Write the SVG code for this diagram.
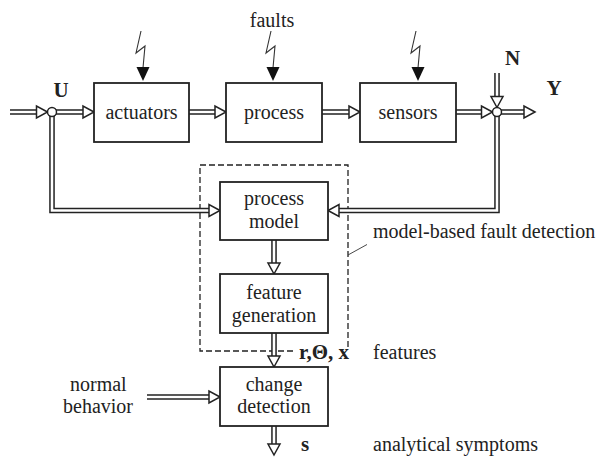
<svg xmlns="http://www.w3.org/2000/svg" xmlns:xlink="http://www.w3.org/1999/xlink" width="601" height="459" viewBox="0 0 601 459">
<style>
.box{fill:#fff;stroke:#222;stroke-width:1.8}
.t{font-family:'Liberation Serif','DejaVu Serif','Noto Serif',serif;font-size:20px;fill:#222}
.b{font-family:'Liberation Serif','DejaVu Serif','Noto Serif',serif;font-size:21px;font-weight:bold;fill:#222}
.dl{fill:none;stroke:#222;stroke-width:5.6;stroke-linejoin:miter}
.dw{fill:none;stroke:#fff;stroke-width:2.6;stroke-linejoin:miter}
.head{fill:#fff;stroke:#222;stroke-width:1.5;stroke-linejoin:miter}
.bolt{fill:none;stroke:#333;stroke-width:1.1}
.bh{fill:#111}
.dash{fill:none;stroke:#222;stroke-width:1.3;stroke-dasharray:6,3}
.junc{fill:#fff;stroke:#222;stroke-width:1.5}
</style>
<defs>
<path id="ah" d="M0,0 L-11,-6 L-11,6 Z"/>
<g id="bolt">
<polyline class="bolt" points="-2,31 -7,53 2,46 0,68"/>
<polygon class="bh" points="-6.5,67 6.5,67 0,81"/>
</g>
</defs>
<rect width="601" height="459" fill="#fff"/>

<g id="faults">
<text class="t" x="272" y="27" text-anchor="middle">faults</text>
<use xlink:href="#bolt" transform="translate(143,0)"/>
<use xlink:href="#bolt" transform="translate(273,0)"/>
<use xlink:href="#bolt" transform="translate(418,0)"/>
</g>

<g id="mbfd">
<path class="dash" d="M293,351 H200 V165 H348 V347"/>
<line x1="348" y1="255" x2="367" y2="244.5" stroke="#333" stroke-width="0.9"/>
<text class="t" x="373" y="238">model-based fault detection</text>
</g>

<g id="connectors">
<path class="dl" d="M10,112 H37 M56,112 H84 M189,112 H216 M322,112 H350 M456,112 H482 M501,112 H525 M497,73 V97 M52,116 V210.5 H210 M497,116 V210.5 H338 M274,240 V264 M274,333 V357 M147,397 H210 M274,426 V445"/>
<path class="dw" d="M10,112 H37 M56,112 H84 M189,112 H216 M322,112 H350 M456,112 H482 M501,112 H525 M497,73 V97 M52,116 V210.5 H210 M497,116 V210.5 H338 M274,240 V264 M274,333 V357 M147,397 H210 M274,426 V445"/>
<use xlink:href="#ah" class="head" transform="translate(47.5,112)"/>
<use xlink:href="#ah" class="head" transform="translate(94,112)"/>
<use xlink:href="#ah" class="head" transform="translate(226,112)"/>
<use xlink:href="#ah" class="head" transform="translate(360,112)"/>
<use xlink:href="#ah" class="head" transform="translate(492.5,112)"/>
<use xlink:href="#ah" class="head" transform="translate(535,112)"/>
<use xlink:href="#ah" class="head" transform="translate(497,107.5) rotate(90)"/>
<use xlink:href="#ah" class="head" transform="translate(220,210.5)"/>
<use xlink:href="#ah" class="head" transform="translate(328,210.5) rotate(180)"/>
<use xlink:href="#ah" class="head" transform="translate(274,274) rotate(90)"/>
<use xlink:href="#ah" class="head" transform="translate(274,367) rotate(90)"/>
<use xlink:href="#ah" class="head" transform="translate(220,397)"/>
<use xlink:href="#ah" class="head" transform="translate(274,455) rotate(90)"/>
<circle class="junc" cx="52" cy="112" r="4.5"/>
<circle class="junc" cx="497" cy="112" r="4.5"/>
</g>

<g id="labels">
<text class="b" x="61" y="97" text-anchor="middle">U</text>
<text class="b" x="512.5" y="65" text-anchor="middle">N</text>
<text class="b" x="554" y="95" text-anchor="middle">Y</text>
<text class="b" x="299" y="359">r,Θ, x</text>
<text class="t" x="373" y="359">features</text>
<text class="b" x="301" y="451">s</text>
<text class="t" x="373" y="451">analytical symptoms</text>
<text class="t" x="70" y="391">normal</text>
<text class="t" x="63" y="413">behavior</text>
</g>

<g id="actuators">
<rect class="box" x="94" y="83" width="95" height="59"/>
<text class="t" x="141.5" y="119" text-anchor="middle">actuators</text>
</g>
<g id="process">
<rect class="box" x="226" y="83" width="96" height="59"/>
<text class="t" x="274" y="119" text-anchor="middle">process</text>
</g>
<g id="sensors">
<rect class="box" x="360" y="83" width="96" height="59"/>
<text class="t" x="408" y="119" text-anchor="middle">sensors</text>
</g>
<g id="process-model">
<rect class="box" x="220" y="182" width="108" height="58"/>
<text class="t" x="274" y="205" text-anchor="middle">process</text>
<text class="t" x="274" y="228" text-anchor="middle">model</text>
</g>
<g id="feature-generation">
<rect class="box" x="220" y="274" width="108" height="59"/>
<text class="t" x="274" y="299" text-anchor="middle">feature</text>
<text class="t" x="274" y="322" text-anchor="middle">generation</text>
</g>
<g id="change-detection">
<rect class="box" x="220" y="367" width="108" height="59"/>
<text class="t" x="274" y="391" text-anchor="middle">change</text>
<text class="t" x="274" y="413" text-anchor="middle">detection</text>
</g>
</svg>
